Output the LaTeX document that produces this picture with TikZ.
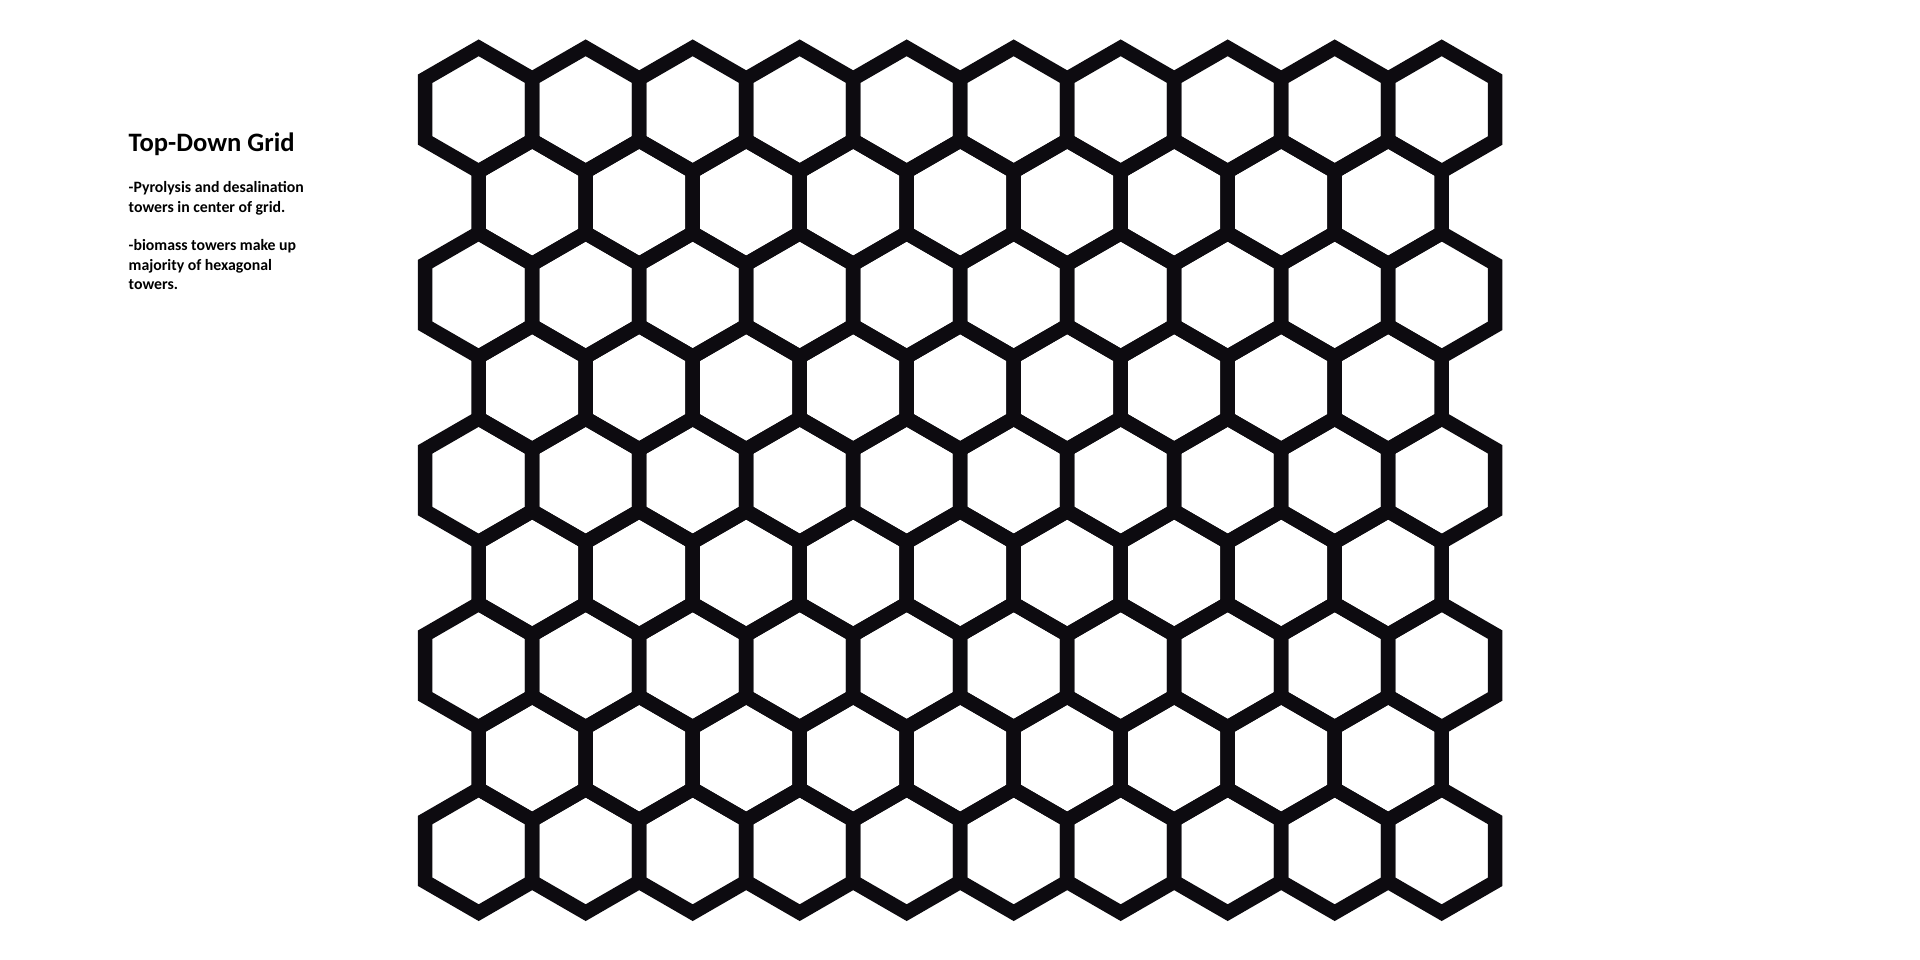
\documentclass[tikz,border=0pt]{standalone}
\usepackage{fontspec}
\setmainfont{Carlito}
\definecolor{hexink}{RGB}{13,11,16}
\begin{document}
\begin{tikzpicture}[x=1pt,y=-1pt,
  hexcell/.style={draw=hexink,line width=14.5pt,line join=miter},
  titletext/.style={anchor=base west,inner sep=0pt,font=\fontsize{26.6}{30}\selectfont\bfseries},
  bodytext/.style={anchor=base west,inner sep=0pt,font=\fontsize{15.8}{19.2}\selectfont\bfseries}]
\useasboundingbox (0,0) rectangle (1920,960);
\fill[white] (0,0) rectangle (1920,960);
\def\R{61.78}
\foreach \r in {0,...,8}{
  \pgfmathtruncatemacro{\odd}{mod(\r,2)}
  \pgfmathtruncatemacro{\ncol}{9-\odd}
  \foreach \c in {0,...,\ncol}{
    \pgfmathsetmacro{\cx}{478.7+53.5*\odd+107*\c}
    \pgfmathsetmacro{\cy}{109.6+92.66*\r}
    \draw[hexcell] (\cx,\cy) +(90:\R) -- +(150:\R) -- +(210:\R) -- +(270:\R) -- +(330:\R) -- +(30:\R) -- cycle;
  }
}
\node[titletext] (title) at (128.5,151.2) {Top-Down Grid};
\node[bodytext] (noteA1) at (128.5,193.0) {-Pyrolysis and desalination};
\node[bodytext] (noteA2) at (128.5,212.2) {towers in center of grid.};
\node[bodytext] (noteB1) at (128.5,250.6) {-biomass towers make up};
\node[bodytext] (noteB2) at (128.5,270.6) {majority of hexagonal};
\node[bodytext] (noteB3) at (128.5,289.8) {towers.};
\end{tikzpicture}
\end{document}
